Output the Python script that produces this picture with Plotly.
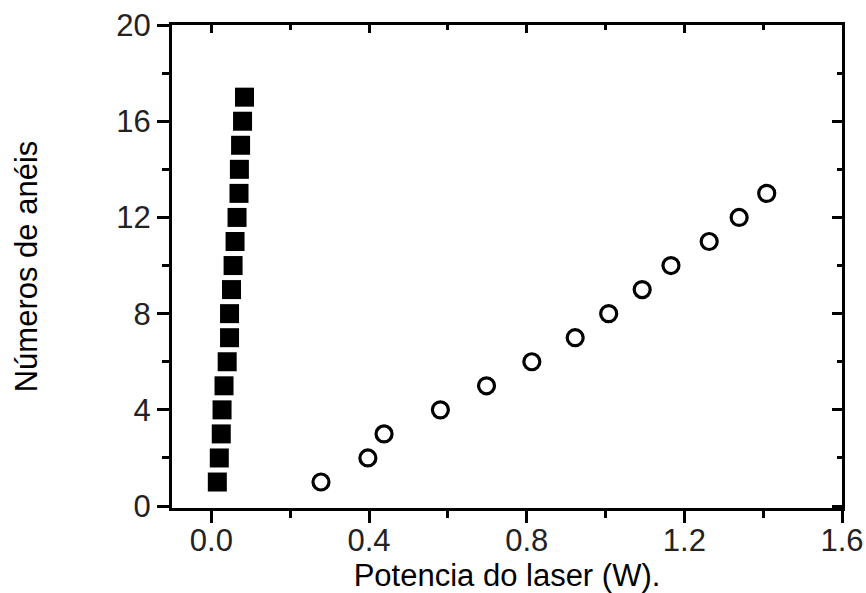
import plotly.graph_objects as go

# numero de aneis vs potencia do laser
rings_sq = list(range(1, 18))
power_sq = [0.015, 0.020, 0.025, 0.027, 0.032, 0.040, 0.046, 0.046, 0.051,
            0.055, 0.060, 0.065, 0.070, 0.071, 0.074, 0.079, 0.084]

rings_circ = list(range(1, 14))
power_circ = [0.278, 0.397, 0.438, 0.581, 0.698, 0.813, 0.923, 1.008,
              1.093, 1.166, 1.263, 1.339, 1.409]

x_range = [-0.1, 1.6]
y_range = [-0.08, 20.0]
font = "Liberation Sans, Arial, sans-serif"

fig = go.Figure()
fig.add_trace(go.Scatter(
    x=power_sq, y=rings_sq, mode="markers",
    marker=dict(symbol="square", size=19, color="black"),
    showlegend=False,
))
fig.add_trace(go.Scatter(
    x=power_circ, y=rings_circ, mode="markers",
    marker=dict(symbol="circle-open", size=16, color="black",
                line=dict(width=3.2, color="black")),
    showlegend=False,
))
# empty trace so the mirrored (top/right) axes get drawn
fig.add_trace(go.Scatter(x=[], y=[], xaxis="x2", yaxis="y2", showlegend=False))

axis_common = dict(showgrid=False, zeroline=False, linecolor="black",
                   tickcolor="black", tickwidth=3, automargin=False)

fig.update_layout(
    width=866, height=593,
    margin=dict(l=172, r=24, t=25, b=85),
    plot_bgcolor="white", paper_bgcolor="white",
    font=dict(family=font, color="black"),
    xaxis=dict(
        range=x_range, **axis_common,
        showline=True, linewidth=3, mirror=True,
        ticks="outside", ticklen=12, tick0=0, dtick=0.4, tickformat=".1f",
        tickfont=dict(size=31, color="#222"), ticklabelstandoff=-9,
        minor=dict(ticks="outside", ticklen=7, tickwidth=3, tickcolor="black",
                   tick0=0, dtick=0.2),
        title=dict(text="Potencia do laser (W).", font=dict(size=31), standoff=2),
    ),
    yaxis=dict(
        range=y_range, **axis_common,
        showline=True, linewidth=3, mirror=True,
        ticks="outside", ticklen=12, tick0=0, dtick=4,
        tickfont=dict(size=31, color="#222"),
        minor=dict(ticks="outside", ticklen=7, tickwidth=3, tickcolor="black",
                   tick0=0, dtick=2),
        title=dict(text="Números de anéis", font=dict(size=31), standoff=70),
    ),
    xaxis2=dict(
        range=x_range, overlaying="x", side="top", anchor="y2", **axis_common,
        showline=False, showticklabels=False,
        ticks="inside", ticklen=8, tick0=0, dtick=0.4,
        minor=dict(ticks="inside", ticklen=5, tickwidth=3, tickcolor="black",
                   tick0=0, dtick=0.2),
    ),
    yaxis2=dict(
        range=y_range, overlaying="y", side="right", anchor="x2", **axis_common,
        showline=False, showticklabels=False,
        ticks="inside", ticklen=10, tick0=0, dtick=4,
        minor=dict(ticks="inside", ticklen=5, tickwidth=3, tickcolor="black",
                   tick0=0, dtick=2),
    ),
)

# drop the default page margin so the figure sits at the window's corner
fig.write_html("out.html", config={"displayModeBar": False},
               post_script="document.body.style.margin='0';")
